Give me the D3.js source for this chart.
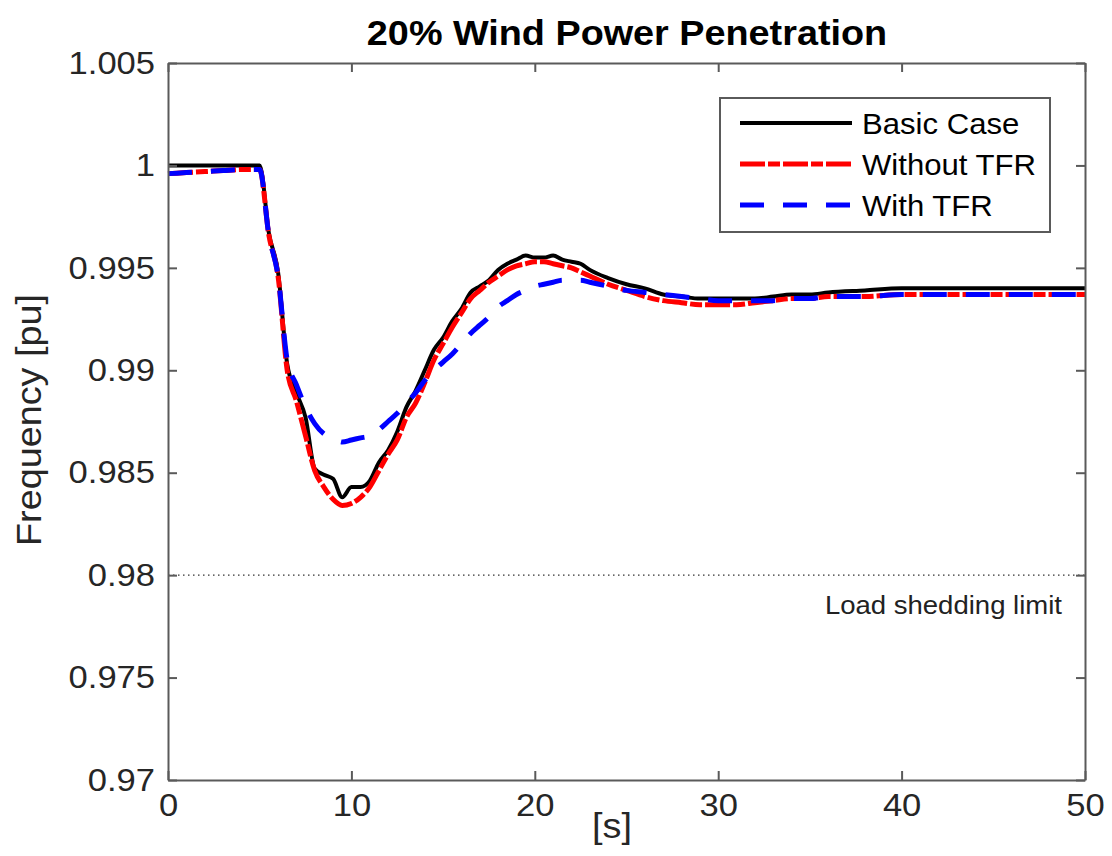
<!DOCTYPE html>
<html>
<head>
<meta charset="utf-8">
<script src="https://cdn.jsdelivr.net/npm/d3@7/dist/d3.min.js"></script>
<style>
  html, body { margin: 0; padding: 0; background: #fff; }
  svg { display: block; }
  text { font-family: "Liberation Sans", Arial, Helvetica, sans-serif; }
</style>
</head>
<body>
<svg id="chart" width="1112" height="856"></svg>
<script>
// Simulation time stamps [s]
const time = [0, 1, 2, 3, 4, 5, 5.5, 6, 6.5, 7, 7.5, 8, 8.5, 9, 9.5, 10, 10.5, 11, 11.5, 12,
  12.5, 13, 13.5, 14, 14.5, 15, 15.5, 16, 16.5, 17, 17.5, 18, 18.5, 19, 19.5, 20, 20.5, 21,
  21.5, 22, 22.5, 23, 24, 25, 26, 27, 28, 29, 30, 31, 32, 33, 34, 35, 36, 38, 40, 42, 44, 46, 48, 50];

// System frequency [pu] for each case
const basicCase = [1.0, 1.0, 1.0, 1.0, 1.0, 1.0, 0.9967, 0.9948, 0.9903, 0.9889, 0.9877, 0.9852,
  0.9849, 0.9847, 0.9838, 0.9843, 0.9843, 0.9846, 0.9855, 0.9861, 0.9870, 0.9882, 0.9890, 0.9900,
  0.9910, 0.9916, 0.9924, 0.9930, 0.9938, 0.9941, 0.9944, 0.9949, 0.9952, 0.9954, 0.9956, 0.9955,
  0.9955, 0.9956, 0.9954, 0.9953, 0.9952, 0.9949, 0.9945, 0.9942, 0.9940, 0.9937, 0.9936, 0.9935,
  0.9935, 0.9935, 0.9935, 0.9936, 0.9937, 0.9937, 0.9938, 0.9939, 0.9940, 0.9940, 0.9940, 0.9940,
  0.9940, 0.9940];

const withoutTFR = [0.9996, 0.99965, 0.9997, 0.99975, 0.9998, 0.9998, 0.9966, 0.9946, 0.9900, 0.9885,
  0.9868, 0.9851, 0.9843, 0.9837, 0.9834, 0.9835, 0.9838, 0.9843, 0.9851, 0.9859, 0.9866, 0.9877,
  0.9884, 0.9894, 0.9905, 0.9913, 0.9921, 0.9928, 0.9935, 0.9939, 0.9943, 0.9946, 0.9949, 0.9951,
  0.9952, 0.9953, 0.9953, 0.9952, 0.9951, 0.9950, 0.9948, 0.9946, 0.9942, 0.9939, 0.9936, 0.9934,
  0.9933, 0.9932, 0.9932, 0.9932, 0.9933, 0.9934, 0.9935, 0.9935, 0.9936, 0.9936, 0.9937, 0.9937,
  0.9937, 0.9937, 0.9937, 0.9937];

const withTFR = [0.9996, 0.99965, 0.9997, 0.99975, 0.9998, 0.9998, 0.9966, 0.9946, 0.9905, 0.9893,
  0.9882, 0.9874, 0.9869, 0.9867, 0.9865, 0.9866, 0.9867, 0.9868, 0.9871, 0.9875, 0.9879, 0.9884,
  0.9889, 0.9895, 0.9900, 0.9904, 0.9908, 0.9913, 0.9918, 0.9922, 0.9926, 0.9931, 0.9934, 0.9937,
  0.9939, 0.9941, 0.9942, 0.9943, 0.9944, 0.9944, 0.9944, 0.9943, 0.9941, 0.9939, 0.9938, 0.9937,
  0.9936, 0.9935, 0.9934, 0.9934, 0.9934, 0.9934, 0.9935, 0.9935, 0.9936, 0.9936, 0.9937, 0.9937,
  0.9937, 0.9937, 0.9937, 0.9937];

const seriesNames = ["Basic Case", "Without TFR", "With TFR"];
const xTicks = [0, 10, 20, 30, 40, 50];
const yTicks = [0.97, 0.975, 0.98, 0.985, 0.99, 0.995, 1, 1.005];
const sheddingLimit = 0.98;

// Plot frame
const plotLeft = 168, plotRight = 1085, plotTop = 63, plotBottom = 780;
const stretch = 1.08; // horizontal widening of the glyphs

const svg = d3.select("#chart");
const x = d3.scaleLinear().domain([0, 50]).range([plotLeft, plotRight]);
const y = d3.scaleLinear().domain([0.97, 1.005]).range([plotBottom, plotTop]);

const axisColor = "#5a5a5a";
const labelColor = "#262626";

// Load shedding limit (dotted)
svg.append("line")
  .attr("x1", x(0)).attr("x2", x(50))
  .attr("y1", y(sheddingLimit)).attr("y2", y(sheddingLimit))
  .attr("stroke", "#333").attr("stroke-width", 1.3)
  .attr("stroke-dasharray", "1.5,3.5");

svg.append("text")
  .attr("transform", `translate(1062,614) scale(${stretch},1)`)
  .attr("text-anchor", "end")
  .attr("font-size", 25.5)
  .attr("fill", "#222")
  .text("Load shedding limit");

// Curves
const styles = [
  { data: basicCase, color: "#000000", width: 4, dash: null },
  { data: withoutTFR, color: "#ff0000", width: 5, dash: "25,3,12,3" },
  { data: withTFR, color: "#0000ff", width: 5, dash: "24,19" }
];

const line = d3.line()
  .x(d => x(d[0]))
  .y(d => y(d[1]))
  .curve(d3.curveMonotoneX);

const plot = svg.append("g");
styles.forEach(s => {
  const pts = time.map((t, i) => [t, s.data[i]]);
  plot.append("path")
    .datum(pts)
    .attr("d", line)
    .attr("fill", "none")
    .attr("stroke", s.color)
    .attr("stroke-width", s.width)
    .attr("stroke-linejoin", "round")
    .attr("stroke-dasharray", s.dash);
});

// Axes (inward ticks on all four sides)
const fmt = d => String(+d.toFixed(3));
const tickLen = 9;

const gLeft = svg.append("g").attr("transform", `translate(${plotLeft},0)`)
  .call(d3.axisLeft(y).tickValues(yTicks).tickFormat(fmt).tickSizeInner(-tickLen).tickSizeOuter(0).tickPadding(12));
const gBottom = svg.append("g").attr("transform", `translate(0,${plotBottom})`)
  .call(d3.axisBottom(x).tickValues(xTicks).tickFormat(d3.format("d")).tickSizeInner(-tickLen).tickSizeOuter(0).tickPadding(13));
const gRight = svg.append("g").attr("transform", `translate(${plotRight},0)`)
  .call(d3.axisRight(y).tickValues(yTicks).tickFormat("").tickSizeInner(-tickLen).tickSizeOuter(0));
const gTop = svg.append("g").attr("transform", `translate(0,${plotTop})`)
  .call(d3.axisTop(x).tickValues(xTicks).tickFormat("").tickSizeInner(-tickLen).tickSizeOuter(0));

[gLeft, gBottom, gRight, gTop].forEach(g => {
  g.select(".domain").attr("stroke", axisColor).attr("stroke-width", 2);
  g.selectAll(".tick line").attr("stroke", axisColor).attr("stroke-width", 2);
  g.selectAll(".tick text")
    .attr("font-size", 32)
    .attr("font-family", "'Liberation Sans', Arial, Helvetica, sans-serif")
    .attr("fill", labelColor)
    .attr("transform", `scale(${stretch},1)`);
});

// Title
svg.append("text")
  .attr("transform", `translate(627,45) scale(${stretch},1)`)
  .attr("text-anchor", "middle")
  .attr("font-size", 35)
  .attr("font-weight", "bold")
  .attr("fill", "#000")
  .text("20% Wind Power Penetration");

// Axis titles
svg.append("text")
  .attr("transform", `translate(41,420) rotate(-90) scale(${stretch},1)`)
  .attr("text-anchor", "middle")
  .attr("font-size", 35)
  .attr("fill", labelColor)
  .text("Frequency [pu]");

svg.append("text")
  .attr("transform", `translate(612,838) scale(${stretch},1)`)
  .attr("text-anchor", "middle")
  .attr("font-size", 35)
  .attr("fill", labelColor)
  .text("[s]");

// Legend
const legend = svg.append("g");
legend.append("rect")
  .attr("x", 720).attr("y", 98).attr("width", 330).attr("height", 134)
  .attr("fill", "#fff").attr("stroke", axisColor).attr("stroke-width", 2);

const legendY = d3.scalePoint().domain(seriesNames).range([123, 205]);
seriesNames.forEach((name, i) => {
  const s = styles[i];
  legend.append("line")
    .attr("x1", 740).attr("x2", 852)
    .attr("y1", legendY(name)).attr("y2", legendY(name))
    .attr("stroke", s.color).attr("stroke-width", s.width)
    .attr("stroke-dasharray", s.dash);
  legend.append("text")
    .attr("transform", `translate(862,${legendY(name) + 11}) scale(${stretch},1)`)
    .attr("font-size", 28.8)
    .attr("fill", "#000")
    .text(name);
});
</script>
</body>
</html>
